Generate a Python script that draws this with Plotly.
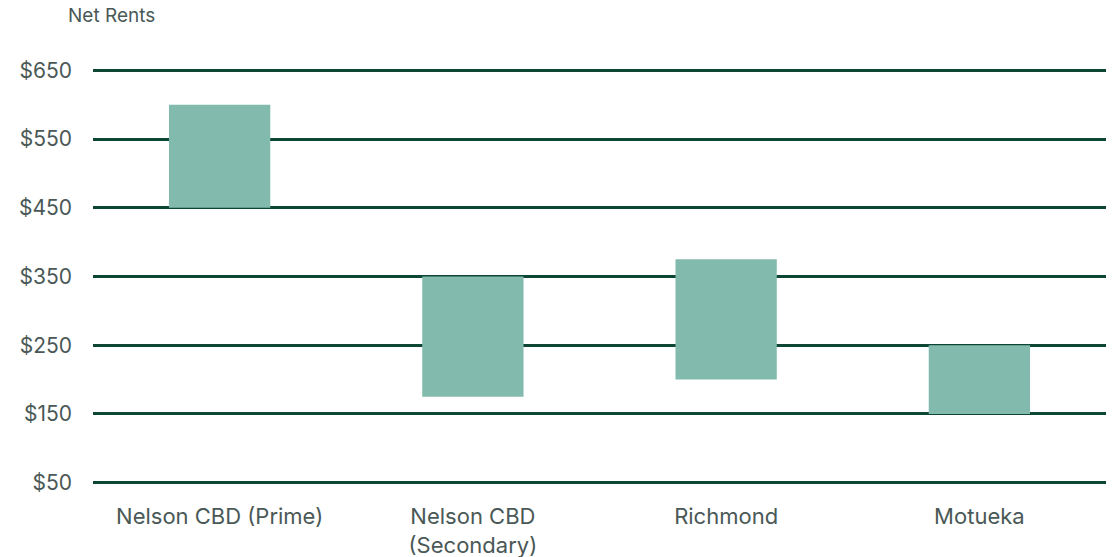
import plotly.graph_objects as go

categories = ["Nelson CBD (Prime)", "Nelson CBD<br>(Secondary)", "Richmond", "Motueka"]
low_rent = [450, 175, 200, 150]
high_rent = [600, 350, 375, 250]
tick_vals = [50, 150, 250, 350, 450, 550, 650]
tick_text = ["$50", "$150", "$250", "$350", "$450", "$550", "$650"]

span = [h - l for h, l in zip(high_rent, low_rent)]

fig = go.Figure()
fig.add_trace(go.Bar(
    x=categories, y=span, base=low_rent,
    marker=dict(color="#82bbad", line=dict(width=0)),
    width=0.4, hoverinfo="skip",
))

fig.update_layout(
    width=1114, height=557,
    margin=dict(l=93, r=8, t=69, b=73),
    paper_bgcolor="white", plot_bgcolor="white",
    font=dict(family="Inter, Open Sans, sans-serif", size=21, color="#4a5856"),
    showlegend=False,
    xaxis=dict(showgrid=False, showline=False, zeroline=False, ticks="",
               tickfont=dict(size=22), ticklabelstandoff=17, automargin=False),
    yaxis=dict(range=[48, 652], tickvals=tick_vals, ticktext=tick_text,
               showgrid=True, gridcolor="#0d4634", gridwidth=2.5,
               zeroline=False, showline=False, ticks="", automargin=False,
               ticklabelstandoff=20, tickfont=dict(size=21)),
    annotations=[dict(text="Net Rents", xref="paper", yref="paper", x=-0.027, y=1.0,
                      xanchor="left", yanchor="middle", yshift=54, showarrow=False,
                      font=dict(size=19, color="#4a5856"))],
)

fig.write_html("out.html")
